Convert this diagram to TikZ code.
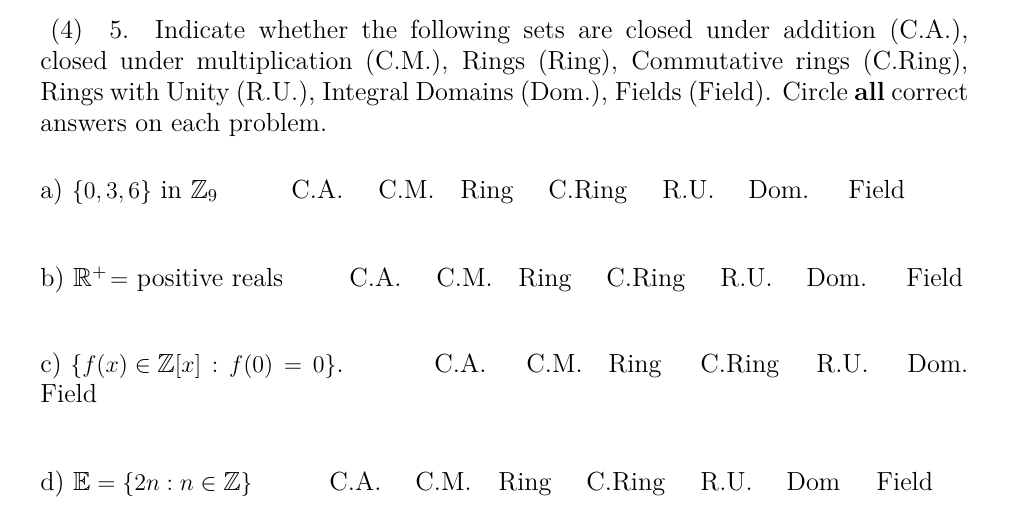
\documentclass[tikz,border=0pt]{standalone}
\usepackage{amsmath,amssymb}
\begin{document}
\begin{tikzpicture}[x=0.5pt,y=-0.5pt,t/.style={anchor=base west,inner sep=0pt,font=\fontsize{13.1}{15}\selectfont}]
\useasboundingbox[fill=white] (0,0) rectangle (1024,515);
\node[t] (l1) at (50,38) {\makebox[459pt][s]{(4)\quad 5. Indicate whether the following sets are closed under addition (C.A.),}};
\node[t] (l2) at (40,69) {\makebox[464pt][s]{closed under multiplication (C.M.), Rings (Ring), Commutative rings (C.Ring),}};
\node[t] (l3) at (40,100) {\makebox[464pt][s]{Rings with Unity (R.U.), Integral Domains (Dom.), Fields (Field). Circle \textbf{all} correct}};
\node[t] (l4) at (40,131) {answers on each problem.};
% a
\node[t] (a0) at (40,198) {a) $\{0,3,6\}$ in $\mathbb{Z}_9$};
\node[t] (a1) at (291,198) {C.A.};
\node[t] (a2) at (378,198) {C.M.};
\node[t] (a3) at (460,198) {Ring};
\node[t] (a4) at (548,198) {C.Ring};
\node[t] (a5) at (662,198) {R.U.};
\node[t] (a6) at (748,198) {Dom.};
\node[t] (a7) at (848,198) {Field};
% b
\node[t] (b0) at (40,286) {b) $\mathbb{R}^{+}\!=$ positive reals};
\node[t] (b1) at (349,286) {C.A.};
\node[t] (b2) at (436,286) {C.M.};
\node[t] (b3) at (518,286) {Ring};
\node[t] (b4) at (606,286) {C.Ring};
\node[t] (b5) at (720,286) {R.U.};
\node[t] (b6) at (806,286) {Dom.};
\node[t] (b7) at (906,286) {Field};
% c
\node[t] (c0) at (40,372) {c) $\{f(x)\in\mathbb{Z}[x]\,:\,f(0)\,=\,0\}$.};
\node[t] (c1) at (434,372) {C.A.};
\node[t] (c2) at (526,372) {C.M.};
\node[t] (c3) at (608,372) {Ring};
\node[t] (c4) at (700,372) {C.Ring};
\node[t] (c5) at (816,372) {R.U.};
\node[t] (c6) at (907,372) {Dom.};
\node[t] (c7) at (40,402) {Field};
% d
\node[t] (d0) at (40,490) {d) $\mathbb{E}=\{2n:n\in\mathbb{Z}\}$};
\node[t] (d1) at (329,490) {C.A.};
\node[t] (d2) at (415,490) {C.M.};
\node[t] (d3) at (498,490) {Ring};
\node[t] (d4) at (586,490) {C.Ring};
\node[t] (d5) at (700,490) {R.U.};
\node[t] (d6) at (786,490) {Dom};
\node[t] (d7) at (876,490) {Field};
\end{tikzpicture}
\end{document}
